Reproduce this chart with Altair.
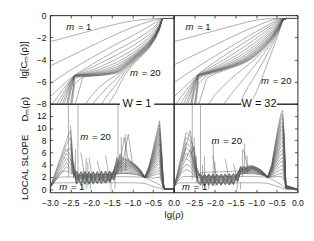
import altair as alt
import pandas as pd

N = None
FONT = "Liberation Sans"
LC = "#555555"
LW = 0.5

# ---------------- top panels: lg[C_m(rho)] ----------------
X_TOP = [-3.0, -2.9, -2.8, -2.7, -2.6, -2.5, -2.4, -2.2, -2.0, -1.8, -1.6,
         -1.4, -1.3, -1.2, -1.0, -0.8, -0.6, -0.45, -0.35, -0.27, 0.0]

TL_A = [
    [-2.4, -2.3, -2.2, -2.1, -2.0, -1.9, -1.8],
    [-4.6, -4.42, -4.24, -4.06, -3.88, -3.7, -3.52],
    [-6.2, -5.95, -5.7, -5.45, -5.2, -4.97, -4.74],
    [-7.4, -7.05, -6.7, -6.35, -6.0, -5.7, -5.42],
    [-8.3, -7.8, -7.3, -6.8, -6.3, -5.85, -5.45],
    [N, -8.4, -7.8, -7.2, -6.55, -5.95, -5.45],
    [N, N, -8.3, -7.55, -6.8, -6.0, -5.45],
    [N, N, N, -8.0, -7.1, -6.1, -5.45],
    [N, N, N, -8.4, -7.4, -6.25, -5.45],
    [N, N, N, N, -8.1, -6.45, -5.48],
    [N, N, N, N, -8.4, -6.7, -5.5],
    [N, N, N, N, -8.9, -7.0, -5.55],
    [N, N, N, N, N, -8.1, -5.6],
    [N, N, N, N, N, -8.6, -5.7],
    [N, N, N, N, N, -9.2, -6.2],
    [N, N, N, N, N, N, -8.2],
    [N] * 7, [N] * 7, [N] * 7, [N] * 7,
]
TL_B = [
    [-1.6, -1.4, -1.2, -1.0, -0.82, -0.73, -0.65],
    [-3.16, -2.8, -2.44, -2.08, -1.74, -1.57, -1.4],
    [-4.3, -3.87, -3.45, -3.04, -2.64, -2.44, -2.25],
    [-4.95, -4.5, -4.05, -3.62, -3.2, -3.0, -2.8],
    [-5.1, -4.75, -4.38, -4.0, -3.62, -3.42, -3.22],
    [-5.22, -4.98, -4.68, -4.35, -4.0, -3.8, -3.6],
    [-5.3, -5.12, -4.9, -4.62, -4.3, -4.1, -3.9],
    [-5.35, -5.22, -5.05, -4.82, -4.52, -4.32, -4.1],
    [-5.38, -5.28, -5.15, -4.97, -4.7, -4.5, -4.25],
    [-5.4, -5.32, -5.22, -5.08, -4.84, -4.62, -4.36],
    [-5.42, -5.36, -5.28, -5.15, -4.95, -4.72, -4.45],
    [-5.45, -5.4, -5.33, -5.22, -5.04, -4.82, -4.53],
    [-5.48, -5.43, -5.37, -5.27, -5.1, -4.9, -4.6],
    [-5.5, -5.46, -5.4, -5.3, -5.15, -4.96, -4.66],
    [-5.55, -5.48, -5.43, -5.34, -5.2, -5.02, -4.72],
    [-5.6, -5.5, -5.46, -5.38, -5.26, -5.1, -4.8],
    [-8.4, -7.3, -6.5, -5.9, -5.45, -5.2, -4.88],
    [N, -8.2, -7.3, -6.5, -5.8, -5.4, -5.0],
    [N, N, -8.3, -7.2, -6.3, -5.75, -5.2],
    [N, N, N, -8.1, -7.0, -6.2, -5.5],
]
TL_C = [
    [-0.52, -0.42, -0.35, -0.32, -0.31, -0.3, -0.3],
    [-1.1, -0.82, -0.58, -0.42, -0.34, -0.3, -0.3],
    [-1.86, -1.45, -1.02, -0.68, -0.42, -0.3, -0.3],
    [-2.4, -1.95, -1.45, -0.98, -0.55, -0.3, -0.3],
    [-2.8, -2.32, -1.75, -1.2, -0.72, -0.3, -0.3],
    [-3.15, -2.65, -2.02, -1.4, -0.85, -0.3, -0.3],
    [-3.42, -2.88, -2.22, -1.55, -0.95, -0.3, -0.3],
    [-3.6, -3.04, -2.36, -1.65, -1.0, -0.3, -0.3],
    [-3.72, -3.14, -2.45, -1.72, -1.05, -0.3, -0.3],
    [-3.8, -3.2, -2.5, -1.76, -1.08, -0.3, -0.3],
    [-3.87, -3.25, -2.55, -1.8, -1.1, -0.3, -0.3],
    [-3.93, -3.3, -2.6, -1.84, -1.13, -0.3, -0.3],
    [-3.98, -3.35, -2.65, -1.88, -1.16, -0.3, -0.3],
    [-4.03, -3.4, -2.7, -1.92, -1.19, -0.3, -0.3],
    [-4.08, -3.45, -2.75, -1.96, -1.22, -0.3, -0.3],
    [-4.14, -3.5, -2.8, -2.0, -1.25, -0.3, -0.3],
    [-4.2, -3.55, -2.85, -2.04, -1.28, -0.3, -0.3],
    [-4.28, -3.62, -2.9, -2.08, -1.31, -0.3, -0.3],
    [-4.38, -3.7, -2.96, -2.12, -1.34, -0.3, -0.3],
    [-4.5, -3.78, -3.02, -2.16, -1.37, -0.3, -0.3],
]

TR_A = [
    [-2.4, -2.3, -2.2, -2.1, -2.0, -1.9, -1.8],
    [-4.5, -4.32, -4.14, -3.96, -3.78, -3.6, -3.42],
    [-6.1, -5.85, -5.6, -5.35, -5.1, -4.86, -4.62],
    [-7.4, -7.05, -6.7, -6.35, -6.0, -5.62, -5.3],
    [-8.3, -7.8, -7.3, -6.8, -6.3, -5.78, -5.35],
    [N, -8.4, -7.8, -7.2, -6.55, -5.9, -5.38],
    [N, N, -8.3, -7.55, -6.8, -6.0, -5.4],
    [N, N, N, -8.0, -7.1, -6.1, -5.4],
    [N, N, N, -8.4, -7.4, -6.25, -5.42],
    [N, N, N, N, -8.1, -6.45, -5.45],
    [N, N, N, N, -8.4, -6.7, -5.48],
    [N, N, N, N, -8.9, -7.0, -5.52],
    [N, N, N, N, N, -8.1, -5.6],
    [N, N, N, N, N, -8.6, -5.75],
    [N, N, N, N, N, -9.2, -6.2],
    [N, N, N, N, N, N, -8.2],
    [N] * 7, [N] * 7, [N] * 7, [N] * 7,
]
TR_B = [
    [-1.6, -1.4, -1.2, -1.0, -0.8, -0.7, -0.6],
    [-3.06, -2.7, -2.34, -1.98, -1.63, -1.46, -1.29],
    [-4.16, -3.7, -3.25, -2.8, -2.36, -2.14, -1.92],
    [-4.75, -4.22, -3.72, -3.22, -2.74, -2.5, -2.26],
    [-4.92, -4.5, -4.06, -3.6, -3.12, -2.87, -2.62],
    [-5.05, -4.7, -4.32, -3.9, -3.45, -3.2, -2.94],
    [-5.12, -4.82, -4.5, -4.12, -3.7, -3.46, -3.2],
    [-5.16, -4.9, -4.62, -4.28, -3.9, -3.67, -3.42],
    [-5.2, -4.96, -4.7, -4.4, -4.04, -3.83, -3.6],
    [-5.22, -5.0, -4.76, -4.48, -4.15, -3.95, -3.72],
    [-5.24, -5.03, -4.8, -4.54, -4.23, -4.04, -3.82],
    [-5.26, -5.05, -4.83, -4.58, -4.29, -4.11, -3.9],
    [-5.3, -5.08, -4.86, -4.62, -4.34, -4.17, -3.97],
    [-5.35, -5.12, -4.9, -4.66, -4.39, -4.22, -4.03],
    [-5.45, -5.18, -4.95, -4.71, -4.44, -4.28, -4.09],
    [-5.7, -5.3, -5.02, -4.77, -4.5, -4.34, -4.15],
    [-8.3, -7.2, -6.4, -5.7, -5.1, -4.8, -4.5],
    [N, N, -8.1, -7.1, -6.2, -5.75, -5.3],
    [N, N, N, N, -8.2, -7.2, -6.5],
    [N, N, N, N, N, N, -8.4],
]
TR_C = [
    [-0.45, -0.35, -0.31, -0.3, -0.3, -0.3, -0.3],
    [-0.98, -0.68, -0.42, -0.32, -0.3, -0.3, -0.3],
    [-1.5, -1.06, -0.65, -0.4, -0.3, -0.3, -0.3],
    [-1.8, -1.3, -0.82, -0.48, -0.31, -0.3, -0.3],
    [-2.1, -1.55, -1.0, -0.56, -0.32, -0.3, -0.3],
    [-2.4, -1.8, -1.16, -0.64, -0.33, -0.3, -0.3],
    [-2.65, -2.02, -1.32, -0.72, -0.34, -0.3, -0.3],
    [-2.86, -2.2, -1.46, -0.8, -0.35, -0.3, -0.3],
    [-3.03, -2.35, -1.58, -0.86, -0.36, -0.3, -0.3],
    [-3.16, -2.47, -1.68, -0.92, -0.37, -0.3, -0.3],
    [-3.26, -2.57, -1.76, -0.97, -0.38, -0.3, -0.3],
    [-3.35, -2.65, -1.83, -1.02, -0.39, -0.3, -0.3],
    [-3.43, -2.73, -1.9, -1.07, -0.4, -0.3, -0.3],
    [-3.5, -2.8, -1.96, -1.11, -0.41, -0.3, -0.3],
    [-3.57, -2.87, -2.02, -1.15, -0.42, -0.3, -0.3],
    [-3.63, -2.93, -2.07, -1.19, -0.43, -0.3, -0.3],
    [-3.85, -3.08, -2.17, -1.25, -0.44, -0.3, -0.3],
    [-4.4, -3.4, -2.32, -1.32, -0.45, -0.3, -0.3],
    [-5.3, -4.0, -2.6, -1.42, -0.46, -0.3, -0.3],
    [-7.0, -5.1, -3.1, -1.55, -0.47, -0.3, -0.3],
]

# ---------------- bottom panels: local slope D_m(rho) ----------------
X_BOT_W1 = [-3.0, -2.9, -2.8, -2.7, -2.6, -2.5, -2.42, -2.35, -2.25, -2.15, -2.05,
            -1.95, -1.85, -1.75, -1.65, -1.55, -1.45, -1.38, -1.3, -1.2, -1.1, -1.0,
            -0.9, -0.8, -0.7, -0.6, -0.5, -0.42, -0.34, -0.29, -0.25, -0.22, 0.0]
X_BOT_W32 = [-3.0, -2.9, -2.8, -2.7, -2.6, -2.5, -2.42, -2.35, -2.25, -2.15, -2.05,
             -1.95, -1.85, -1.75, -1.65, -1.55, -1.45, -1.38, -1.3, -1.2, -1.1, -1.0,
             -0.9, -0.8, -0.72, -0.62, -0.54, -0.46, -0.40, -0.36, -0.32, -0.28, 0.0]

BL_LEFT = [
    [0.3, 1.0, 1.05, 1.05, 1.05, 1.05, 1.05],
    [0.3, 1.2, 1.9, 2.0, 2.0, 2.0, 2.0],
    [0.3, 1.3, 2.3, 2.9, 3.0, 2.6, 2.4],
    [0.2, 1.08, 1.95, 2.83, 3.7, 3.0, 2.4],
    [0.2, 1.25, 2.3, 3.35, 4.4, 3.4, 2.6],
    [0.2, 1.43, 2.65, 3.88, 5.1, 4.2, 2.2],
    [0.2, 1.63, 3.05, 4.48, 5.9, 4.8, 2.8],
    [0.2, 1.8, 3.4, 5.0, 6.6, 5.6, 2.0],
    [0.2, 1.98, 3.75, 5.53, 7.3, 8.5, 2.9],
    [0.2, 2.15, 4.1, 6.0, 8.0, 9.6, 3.2],
    [N, N, N, N, 6.2, 6.8, 3.0],
    [N, N, N, N, N, 7.5, 2.5],
    [N, N, N, N, N, 5.0, 3.4],
    [N, N, N, N, N, 10.5, 1.8],
    [N, N, N, N, N, N, 4.5],
    [N, N, N, N, N, N, 3.8],
    [N] * 7, [N] * 7, [N] * 7, [N] * 7,
]
BL_BAND = [
    [1.05] * 10,
    [2.0] * 10,
    [2.2, 2.25, 2.3, 2.3, 2.35, 2.35, 2.4, 2.4, 2.4, 2.45],
    [2.6, 2.2, 2.6, 2.2, 2.6, 2.3, 2.6, 2.3, 2.7, 2.5],
    [2.1, 2.7, 2.0, 2.7, 2.1, 2.7, 2.1, 2.8, 2.2, 2.8],
    [2.9, 1.8, 2.8, 1.8, 2.8, 1.9, 2.9, 1.9, 2.9, 2.2],
    [1.6, 2.9, 1.6, 2.9, 1.7, 2.9, 1.7, 3.0, 1.8, 3.0],
    [3.0, 1.5, 3.0, 1.4, 2.9, 1.5, 3.0, 1.6, 3.0, 1.9],
    [1.3, 2.8, 1.2, 2.9, 1.3, 2.9, 1.4, 3.0, 1.5, 3.1],
    [2.7, 1.1, 2.8, 1.1, 2.7, 1.2, 2.8, 1.3, 2.9, 1.8],
    [1.0, 2.6, 1.0, 2.6, 1.1, 2.6, 1.2, 2.7, 1.3, 3.1],
    [2.5, 0.9, 2.5, 0.9, 2.4, 1.0, 2.5, 1.1, 2.7, 1.6],
    [0.9, 2.3, 0.8, 2.4, 0.9, 2.4, 1.0, 2.5, 1.2, 3.2],
    [2.2, 0.8, 2.2, 0.8, 2.2, 0.9, 2.3, 1.0, 2.5, 1.5],
    [0.8, 2.0, 0.8, 2.1, 0.8, 2.1, 0.9, 2.2, 1.1, 3.0],
    [1.9, 0.9, 1.9, 0.9, 1.9, 1.0, 2.0, 1.0, 2.3, 1.4],
    [N, 6.0, 1.8, 1.0, 1.8, 1.0, 1.8, 1.1, 2.0, 2.8],
    [N, N, N, 5.2, 1.0, 1.7, 1.0, 1.7, 1.2, 2.6],
    [N, N, N, N, N, 4.6, 1.6, 1.1, 1.6, 2.4],
    [N, N, N, N, N, N, N, 5.5, 1.2, 2.2],
]
BL_MID = [
    [1.05, 1.05, 1.05, 1.05, 1.05, 1.04, 1.0, 0.95],
    [2.05, 2.05, 2.05, 2.05, 2.05, 2.0, 2.0, 1.9],
    [2.5, 2.55, 2.6, 2.55, 2.5, 2.4, 2.2, 1.95],
    [2.6, 2.6, 2.6, 2.55, 2.5, 2.4, 2.2, 1.9],
    [2.9, 2.8, 2.8, 2.75, 2.7, 2.6, 2.3, 1.9],
    [2.5, 3.2, 3.0, 3.0, 2.9, 2.75, 2.4, 1.9],
    [3.3, 2.9, 3.3, 3.2, 3.1, 2.9, 2.5, 1.9],
    [2.6, 3.6, 3.2, 3.4, 3.3, 3.0, 2.55, 1.9],
    [3.7, 3.1, 3.7, 3.6, 3.45, 3.1, 2.6, 1.9],
    [2.8, 4.0, 3.4, 3.8, 3.6, 3.2, 2.65, 1.9],
    [4.0, 3.3, 4.1, 3.9, 3.7, 3.3, 2.7, 1.9],
    [3.0, 4.4, 3.6, 4.1, 3.8, 3.4, 2.75, 1.9],
    [4.3, 3.5, 4.5, 4.2, 3.9, 3.5, 2.8, 1.95],
    [3.2, 4.8, 3.9, 4.4, 4.0, 3.55, 2.85, 1.95],
    [4.6, 3.7, 5.0, 4.5, 4.1, 3.6, 2.9, 1.95],
    [3.4, 5.2, 4.2, 4.6, 4.15, 3.65, 2.95, 1.95],
    [4.9, 4.0, 8.5, 4.7, 4.2, 3.7, 3.0, 2.0],
    [3.6, 5.5, 4.6, 4.8, 4.25, 3.75, 3.0, 2.0],
    [5.2, 4.2, 5.4, 9.0, 4.3, 3.8, 3.05, 2.0],
    [3.8, 5.8, 4.9, 5.0, 4.4, 3.85, 3.1, 2.0],
]
BL_TAIL = [
    [0.7, 0.45, 0.3, 0.15, 0.05, 0, 0, 0],
    [1.6, 1.25, 1.0, 0.7, 0.4, 0.1, 0, 0],
    [1.9, 1.8, 1.9, 2.0, 1.1, 0.2, 0, 0],
    [2.04, 2.25, 2.43, 2.6, 1.43, 0.26, 0, 0],
    [2.14, 2.5, 2.81, 3.1, 1.7, 0.31, 0, 0],
    [2.24, 2.75, 3.19, 3.6, 1.98, 0.36, 0, 0],
    [2.36, 3.05, 3.65, 4.2, 2.31, 0.42, 0, 0],
    [2.46, 3.3, 4.03, 4.7, 2.59, 0.47, 0, 0],
    [2.56, 3.55, 4.41, 5.2, 2.86, 0.52, 0, 0],
    [2.68, 3.85, 4.86, 5.8, 3.19, 0.58, 0, 0],
    [2.78, 4.1, 5.24, 6.3, 3.47, 0.63, 0, 0],
    [2.88, 4.35, 5.62, 6.8, 3.74, 0.68, 0, 0],
    [3.0, 4.65, 6.08, 7.4, 4.07, 0.74, 0, 0],
    [3.1, 4.9, 6.46, 7.9, 4.35, 0.79, 0, 0],
    [3.2, 5.15, 6.84, 8.4, 4.62, 0.84, 0, 0],
    [3.32, 5.45, 7.3, 9.0, 4.95, 0.9, 0, 0],
    [3.42, 5.7, 7.68, 9.5, 5.23, 0.95, 0, 0],
    [3.52, 5.95, 8.06, 10.0, 5.5, 1.0, 0, 0],
    [3.64, 6.25, 8.51, 10.6, 5.83, 1.06, 0, 0],
    [3.76, 6.55, 8.97, 11.2, 6.16, 1.12, 0, 0],
]

BR_LEFT = [
    [0.3, 1.0, 1.05, 1.05, 1.05, 1.05, 1.05],
    [0.3, 1.3, 2.0, 2.1, 2.1, 2.0, 1.9],
    [0.3, 1.6, 2.8, 3.2, 3.0, 2.2, 2.0],
    [0.2, 1.7, 3.2, 4.1, 3.8, 2.6, 2.1],
    [0.2, 1.9, 3.6, 5.0, 4.6, 3.0, 1.8],
    [0.2, 2.1, 4.0, 5.9, 5.4, 3.4, 2.2],
    [0.2, 2.3, 4.5, 6.8, 6.2, 3.8, 1.6],
    [0.2, 2.5, 5.0, 7.6, 7.0, 4.3, 2.4],
    [0.2, 2.7, 5.5, 8.5, 7.9, 4.8, 1.5],
    [0.2, 2.9, 6.0, 9.3, 8.6, 6.0, 2.6],
    [N, N, 4.5, 7.0, 9.6, 5.5, 1.4],
    [N, N, N, 5.0, 6.5, 4.0, 2.8],
    [N, N, N, N, 5.5, 7.0, 1.3],
    [N, N, N, N, N, 5.5, 2.9],
    [N, N, N, N, N, 4.0, 1.2],
    [N, N, N, N, N, N, 3.5],
    [N] * 7, [N] * 7, [N] * 7, [N] * 7,
]
BR_BAND = [
    [1.05] * 10,
    [2.0, 2.0, 2.0, 2.0, 2.0, 2.05, 2.05, 2.05, 2.1, 2.1],
    [2.7, 2.75, 2.8, 2.8, 2.85, 2.85, 2.9, 2.9, 2.95, 3.0],
    [2.3, 1.9, 2.3, 1.9, 2.3, 1.95, 2.35, 1.95, 2.4, 2.2],
    [1.7, 2.4, 1.7, 2.4, 1.75, 2.45, 1.8, 2.5, 1.85, 2.6],
    [2.5, 1.5, 2.5, 1.5, 2.5, 1.55, 2.55, 1.6, 2.6, 1.9],
    [1.3, 2.5, 1.3, 2.5, 1.35, 2.5, 1.4, 2.55, 1.45, 2.7],
    [2.5, 1.1, 2.5, 1.1, 2.45, 1.15, 2.5, 1.2, 2.55, 1.7],
    [1.0, 2.4, 0.95, 2.4, 1.0, 2.4, 1.05, 2.45, 1.1, 2.7],
    [2.3, 0.9, 2.3, 0.85, 2.3, 0.9, 2.3, 0.95, 2.4, 1.5],
    [0.8, 2.2, 0.8, 2.2, 0.8, 2.2, 0.85, 2.25, 0.9, 2.6],
    [2.1, 0.7, 2.1, 0.7, 2.05, 0.75, 2.1, 0.8, 2.2, 1.4],
    [0.7, 1.9, 0.65, 2.0, 0.7, 2.0, 0.75, 2.05, 0.8, 2.5],
    [1.8, 0.6, 1.8, 0.6, 1.8, 0.65, 1.85, 0.7, 2.0, 1.3],
    [0.65, 1.7, 0.6, 1.7, 0.65, 1.75, 0.7, 1.8, 0.75, 2.4],
    [1.6, 0.6, 1.6, 0.6, 1.6, 0.65, 1.65, 0.7, 1.8, 1.2],
    [N, N, N, 5.5, 1.5, 0.7, 1.5, 0.7, 1.6, 2.3],
    [N, N, N, N, N, N, 5.0, 1.3, 0.8, 2.2],
    [N, N, N, N, N, N, N, N, 4.2, 1.2],
    [N] * 10,
]
BR_MID = [
    [1.05, 1.05, 1.05, 1.05, 1.05, 1.04, 1.0, 0.95],
    [2.1, 2.1, 2.1, 2.1, 2.1, 2.05, 2.0, 1.9],
    [2.6, 2.6, 2.6, 2.55, 2.5, 2.4, 2.2, 1.95],
    [2.4, 2.7, 2.5, 2.7, 2.55, 2.45, 2.2, 1.9],
    [2.9, 2.5, 2.9, 2.75, 2.7, 2.5, 2.25, 1.9],
    [2.5, 3.0, 2.7, 2.95, 2.8, 2.55, 2.3, 1.9],
    [3.1, 2.6, 3.1, 3.05, 2.9, 2.6, 2.3, 1.9],
    [2.6, 3.2, 2.8, 3.15, 3.0, 2.65, 2.35, 1.9],
    [3.3, 2.7, 3.3, 3.25, 3.05, 2.7, 2.35, 1.9],
    [2.7, 3.4, 2.9, 3.35, 3.1, 2.75, 2.4, 1.95],
    [3.4, 2.8, 3.45, 3.4, 3.15, 2.8, 2.4, 1.95],
    [2.8, 3.5, 3.0, 3.45, 3.2, 2.85, 2.45, 1.95],
    [3.5, 2.9, 3.55, 3.5, 3.25, 2.9, 2.45, 1.95],
    [2.9, 3.6, 3.1, 3.55, 3.3, 2.95, 2.5, 2.0],
    [3.6, 3.0, 3.65, 3.6, 3.35, 3.0, 2.5, 2.0],
    [3.0, 3.7, 3.2, 3.65, 3.4, 3.05, 2.55, 2.0],
    [3.7, 3.1, 3.75, 3.7, 3.45, 3.1, 2.55, 2.0],
    [3.1, 3.8, 3.3, 3.75, 3.5, 3.15, 2.6, 2.0],
    [3.8, 3.2, 3.85, 3.8, 3.55, 3.2, 2.6, 2.0],
    [N, 6.5, 3.4, 3.9, 3.6, 3.25, 2.65, 2.05],
]
BR_TAIL = [
    [0.75, 0.55, 0.4, 0.25, 0.15, 0.08, 0, 0],
    [1.6, 1.3, 1.0, 0.8, 0.6, 0.4, 0.05, 0],
    [2.0, 2.05, 2.1, 2.1, 2.0, 1.4, 0.1, 0],
    [2.08, 2.28, 2.46, 2.57, 2.6, 1.82, 0.13, 0],
    [2.22, 2.63, 3.0, 3.23, 3.3, 2.31, 0.17, 0],
    [2.34, 2.93, 3.47, 3.8, 3.9, 2.73, 0.2, 0],
    [2.48, 3.28, 4.02, 4.47, 4.6, 3.22, 0.23, 0],
    [2.6, 3.58, 4.49, 5.04, 5.2, 3.64, 0.26, 0],
    [2.74, 3.93, 5.03, 5.7, 5.9, 4.13, 0.3, 0],
    [2.86, 4.23, 5.5, 6.27, 6.5, 4.55, 0.33, 0],
    [3.0, 4.58, 6.05, 6.94, 7.2, 5.04, 0.36, 0],
    [3.12, 4.88, 6.51, 7.51, 7.8, 5.46, 0.39, 0],
    [3.26, 5.23, 7.06, 8.17, 8.5, 5.95, 0.43, 0],
    [3.38, 5.53, 7.53, 8.74, 9.1, 6.37, 0.46, 0],
    [3.52, 5.88, 8.07, 9.41, 9.8, 6.86, 0.49, 0],
    [3.64, 6.18, 8.54, 9.98, 10.4, 7.28, 0.52, 0],
    [3.76, 6.48, 9.01, 10.55, 11.0, 7.7, 0.55, 0],
    [3.9, 6.83, 9.56, 11.21, 11.7, 8.19, 0.59, 0],
    [4.02, 7.13, 10.02, 11.78, 12.3, 8.61, 0.62, 0],
    [4.14, 7.43, 10.49, 12.35, 12.9, 9.03, 0.65, 0],
]

# noisy vertical spikes in the local-slope panels
SPIKE_W1_X = [-2.55, -2.32, -1.35, -2.47, -2.38, -2.2, -2.12, -2.08, -2.02, -1.52, -1.42, -1.27, -1.16]
SPIKE_W1_LO = [2.0, 1.5, 2.5, 2.5, 1.0, 0.0, 0.0, 0.5, 0.0, 0.0, 0.0, 2.5, 3.0]
SPIKE_W1_HI = [14.5, 14.5, 14.5, 8.0, 6.5, 3.0, 5.2, 4.5, 2.5, 2.8, 3.0, 8.5, 9.0]
SPIKE_W32_X = [-2.55, -2.35, -2.5, -2.45, -2.3, -2.25, -2.04, -2.0, -2.15, -1.46, -1.38, -1.33, -1.28, -1.22]
SPIKE_W32_LO = [1.5, 1.0, 2.0, 1.0, 0.0, 0.5, 1.0, 0.5, 0.0, 0.0, 0.0, 2.0, 2.5, 2.5]
SPIKE_W32_HI = [14.5, 14.5, 8.5, 5.5, 4.0, 5.5, 7.6, 4.5, 2.5, 1.1, 1.1, 6.5, 7.5, 5.5]

# annotations
NOTE_TL = ([-2.39, -0.84], [-1.1, -5.25], ["= 1", "= 20"])
NOTE_TR = ([-2.5, -0.67], [-1.1, -6.0], ["= 1", "= 20"])
NOTE_BL = ([-2.05, -2.56], [8.5, 0.33], ["= 20", "= 1"])
NOTE_BR = ([-1.87, -2.58], [7.8, 0.33], ["= 20", "= 1"])
W_LABELS = ["W = 1", "W = 32"]
W_POS = [-0.89, -0.93]
W_BOX = [(-1.3, -0.47), (-1.36, -0.5)]

X_TICKS = [-3, -2.5, -2, -1.5, -1, -0.5, 0]
YT_TICKS = [-8, -6, -4, -2, 0]
YB_TICKS = [0, 2, 4, 6, 8, 10, 12]


def build(xgrid, segs):
    recs = []
    for s in segs:
        if len(s) != 20:
            raise ValueError("segment without 20 rows")
    for i in range(20):
        vals = []
        for s in segs:
            vals = vals + list(s[i])
        if len(vals) != len(xgrid):
            raise ValueError(f"row {i + 1}: {len(vals)} values")
        for x, v in zip(xgrid, vals):
            if v is not None:
                recs.append({"lg": x, "val": v, "m": i + 1})
    return pd.DataFrame(recs)


def notes_df(n):
    return pd.DataFrame({"lg": n[0], "val": n[1], "t1": ["m"] * len(n[0]), "t2": n[2]})


XS = alt.Scale(domain=[-3, 0], nice=False, zero=False)
YT = alt.Scale(domain=[-8, 0], nice=False, zero=False)
YB = alt.Scale(domain=[-0.5, 14], nice=False, zero=False)


def ax(**kw):
    base = dict(tickSize=3, offset=-3, domain=False, grid=False,
                labelOverlap=False, labelFlush=False)
    base.update(kw)
    return alt.Axis(**base)


def panel(df, xaxis, yaxis, yscale, notes, spikes=None, wl=None):
    X = alt.X("lg:Q", scale=XS, axis=xaxis)
    Y = alt.Y("val:Q", scale=yscale, axis=yaxis)
    layers = [alt.Chart(df).mark_line(color=LC, strokeWidth=LW, clip=True).encode(
        x=X, y=Y, detail="m:N")]
    if spikes is not None:
        sdf = pd.DataFrame({"lg": spikes[0], "val": spikes[1], "val2": spikes[2]})
        layers.append(alt.Chart(sdf).mark_rule(color=LC, strokeWidth=LW, clip=True).encode(
            x=X, y=Y, y2=alt.Y2("val2")))
    nd = notes_df(notes)
    layers.append(alt.Chart(nd).mark_text(fontStyle="italic", align="right", baseline="middle",
                                          dx=-1, fontSize=10, font=FONT, color="#111").encode(
        x=X, y=Y, text="t1:N"))
    layers.append(alt.Chart(nd).mark_text(align="left", baseline="middle", dx=3, fontSize=10,
                                          font=FONT, color="#111").encode(x=X, y=Y, text="t2:N"))
    if wl is not None:
        label, pos, box = wl
        bdf = pd.DataFrame({"lg": [box[0]], "lg2": [box[1]], "val": [13.3], "val2": [14.75]})
        tdf = pd.DataFrame({"lg": [pos], "val": [14.0], "t": [label]})
        layers.append(alt.Chart(bdf).mark_rect(color="white", clip=False).encode(
            x=X, x2=alt.X2("lg2"), y=Y, y2=alt.Y2("val2")))
        layers.append(alt.Chart(tdf).mark_text(align="center", baseline="middle", fontSize=11.5,
                                               font=FONT, color="#111").encode(x=X, y=Y, text="t:N"))
    return alt.layer(*layers).properties(width=130, height=93)


top_x = ax(orient="top", values=X_TICKS, labels=False, title=None)
tl = panel(build(X_TOP, [TL_A, TL_B, TL_C]), top_x,
           ax(orient="left", values=YT_TICKS, format="d", labelPadding=4,
              title="lg[Cₘ(ρ)]", titleX=-26),
           YT, NOTE_TL)
tr = panel(build(X_TOP, [TR_A, TR_B, TR_C]), top_x,
           ax(orient="right", values=YT_TICKS, labels=False, title=None),
           YT, NOTE_TR)
bl = panel(build(X_BOT_W1, [BL_LEFT, BL_BAND, BL_MID, BL_TAIL]),
           ax(orient="bottom", values=X_TICKS, format=".1f", labelPadding=7,
              title="lg(ρ)", titleX=130, titlePadding=3),
           ax(orient="left", values=YB_TICKS, format="d", labelPadding=4,
              title="LOCAL SLOPE\u00a0\u00a0\u00a0\u00a0\u00a0Dₘ(ρ)", titleX=-25),
           YB, NOTE_BL, (SPIKE_W1_X, SPIKE_W1_LO, SPIKE_W1_HI),
           (W_LABELS[0], W_POS[0], W_BOX[0]))
br = panel(build(X_BOT_W32, [BR_LEFT, BR_BAND, BR_MID, BR_TAIL]),
           ax(orient="bottom", values=X_TICKS, format=".1f", labelPadding=7,
              labelExpr="datum.value <= -2.99 ? '' : datum.label", title=None),
           ax(orient="right", values=YB_TICKS, labels=False, title=None),
           YB, NOTE_BR, (SPIKE_W32_X, SPIKE_W32_LO, SPIKE_W32_HI),
           (W_LABELS[1], W_POS[1], W_BOX[1]))

chart = alt.concat(tl, tr, bl, br, columns=2, spacing=0, bounds="flush").properties(
    padding={"left": 10, "top": -3, "right": 2, "bottom": 2}
).configure_view(stroke="#222", strokeWidth=1).configure_axis(
    labelFont=FONT, labelFontSize=9, labelColor="#111", tickColor="#222", tickWidth=0.8,
    titleFont=FONT, titleFontSize=10, titleFontWeight="normal", titleColor="#111"
).configure_text(font=FONT)

chart.save("out.html", embed_options={"renderer": "svg", "actions": False})
